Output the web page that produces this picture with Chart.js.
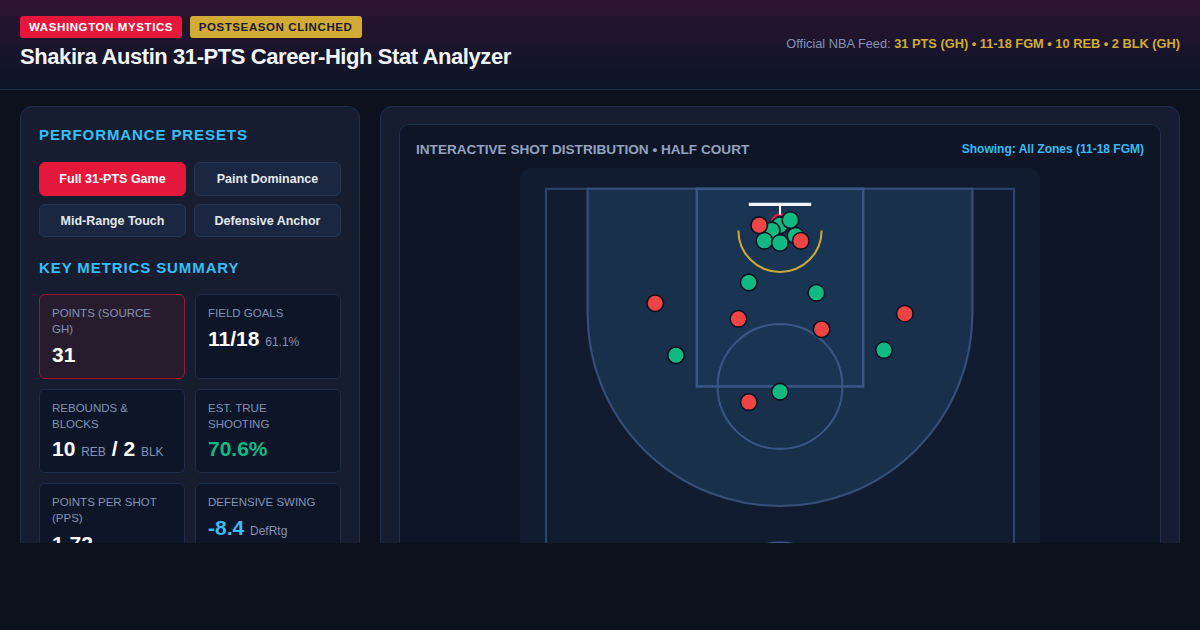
<!DOCTYPE html>
<html lang="en">
<head>
    <meta charset="UTF-8">
    <title>Shakira Austin 31-PTS Career-High Stat Analyzer</title>
    <script src="https://cdn.jsdelivr.net/npm/chart.js"></script>
    <style>
        * { box-sizing: border-box; }
        html, body { margin: 0; padding: 0; background: #0c121d; }
        body { font-family: "Liberation Sans", Arial, sans-serif; color: #f1f5f9; width: 1200px; height: 630px; overflow: hidden; }
        .page { height: 543px; overflow: hidden; }
        header {
            height: 90px;
            padding: 16px 20px 0;
            border-bottom: 1px solid #1e2f4d;
            background: linear-gradient(180deg, #2d152f 0%, #0a1428 100%);
            position: relative;
        }
        .badge { display: inline-block; height: 22px; line-height: 23px; padding: 0 9px; border-radius: 3px; font-size: 11.5px; font-weight: bold; letter-spacing: 0.6px; margin-right: 7.5px; }
        .badge.red { background: #e5173b; color: #fff; }
        .badge.gold { background: #d1ab36; color: #1a1a2e; }
        h1 { margin: 5px 0 0; font-size: 22px; line-height: 28px; letter-spacing: -0.42px; color: #f1f5f9; }
        .feed { position: absolute; right: 20px; top: 36px; font-size: 12.8px; color: #8493b3; }
        .feed b { color: #d1ab36; }
        main { display: flex; gap: 20px; padding: 16px 20px 0; align-items: flex-start; }
        .panel { background: #161d30; border: 1px solid #1f3050; border-radius: 12px; }
        .left { width: 340px; height: 600px; padding: 18px; }
        .right { width: 800px; height: 600px; padding: 17px 18px; }
        h2 { margin: 0; font-size: 15px; line-height: 20px; letter-spacing: 0.9px; color: #38bdf8; }
        .buttons { display: grid; grid-template-columns: 147px 147px; gap: 8px; margin-top: 17px; }
        .buttons div { height: 33.5px; line-height: 32px; text-align: center; font-size: 12.5px; font-weight: bold; background: #1b2740; border: 1px solid #243655; border-radius: 6px; color: #e2e8f0; }
        .buttons div.active { background: #e5173b; border-color: #e5173b; color: #fff; }
        h2.metrics { margin-top: 21px; }
        .cards { display: grid; grid-template-columns: 146px 146px; gap: 10px; margin-top: 16px; }
        .card { background: #0c1628; border: 1px solid #1c2c4a; border-radius: 6px; padding: 10px 12px 10px; height: 84.5px; }
        .card.hot { background: #271c2e; border-color: #a3152f; }
        .card .label { font-size: 11.5px; line-height: 16px; color: #8493b3; text-transform: uppercase; }
        .card .value { font-size: 21px; line-height: 26px; font-weight: bold; color: #fff; margin-top: 4.5px; white-space: nowrap; }
        .card small { font-size: 12px; font-weight: normal; color: #8493b3; }
        .inner { height: 600px; background: linear-gradient(180deg, #0e1526 0%, #0a1526 100%); border: 1px solid #1f3050; border-radius: 10px; padding: 0 16px; }
        .inner-head { display: flex; justify-content: space-between; height: 43px; padding-top: 17px; }
        .inner-head .t { font-size: 13.6px; font-weight: bold; color: #94a3c0; }
        .inner-head .s { font-size: 12px; font-weight: bold; color: #38bdf8; }
        .court { width: 520px; height: 489px; margin: 0 auto; background: #121c30; border-radius: 12px; }
        canvas { display: block; }
    </style>
</head>
<body>
<div class="page">
    <header>
        <span class="badge red">WASHINGTON MYSTICS</span><span class="badge gold">POSTSEASON CLINCHED</span>
        <h1>Shakira Austin 31-PTS Career-High Stat Analyzer</h1>
        <div class="feed">Official NBA Feed: <b>31 PTS (GH) • 11-18 FGM • 10 REB • 2 BLK (GH)</b></div>
    </header>
    <main>
        <div class="panel left">
            <h2>PERFORMANCE PRESETS</h2>
            <div class="buttons">
                <div class="active">Full 31-PTS Game</div>
                <div>Paint Dominance</div>
                <div>Mid-Range Touch</div>
                <div>Defensive Anchor</div>
            </div>
            <h2 class="metrics">KEY METRICS SUMMARY</h2>
            <div class="cards">
                <div class="card hot"><div class="label">Points (Source GH)</div><div class="value">31</div></div>
                <div class="card"><div class="label">Field Goals</div><div class="value">11/18 <small>61.1%</small></div></div>
                <div class="card"><div class="label">Rebounds &amp; Blocks</div><div class="value">10 <small>REB</small> / 2 <small>BLK</small></div></div>
                <div class="card"><div class="label">Est. True Shooting</div><div class="value" style="color:#10b981">70.6%</div></div>
                <div class="card"><div class="label">Points Per Shot (PPS)</div><div class="value">1.72</div></div>
                <div class="card"><div class="label">Defensive Swing</div><div class="value" style="color:#38bdf8">-8.4 <small>DefRtg</small></div></div>
            </div>
        </div>
        <div class="panel right">
            <div class="inner">
                <div class="inner-head">
                    <div class="t">INTERACTIVE SHOT DISTRIBUTION • HALF COURT</div>
                    <div class="s">Showing: All Zones (11-18 FGM)</div>
                </div>
                <div class="court"><canvas id="courtChart" width="520" height="489"></canvas></div>
            </div>
        </div>
    </main>
</div>

<script>
    // Shots, in court units (500 x 470, hoop side up)
    const madeX = [250, 242, 265, 235, 250, 260, 220, 285, 150, 350, 250];
    const madeY = [55, 60, 65, 70, 72, 50, 110, 120, 180, 175, 215];
    const missX = [230, 270, 130, 370, 210, 290, 220];
    const missY = [55, 70, 130, 140, 145, 155, 225];

    const toPoints = (xs, ys) => xs.map((x, i) => ({ x: x, y: ys[i] }));

    // Court floor, drawn under the shots through the chart's own scales
    const courtPlugin = {
        id: 'court',
        beforeDatasetsDraw(chart) {
            const c = chart.ctx;
            const sx = chart.scales.x, sy = chart.scales.y;
            const X = v => sx.getPixelForValue(v);
            const Y = v => sy.getPixelForValue(v);
            const R = v => X(v) - X(0);

            c.save();

            // outer boundary
            c.lineWidth = R(2);
            c.strokeStyle = '#2e4369';
            c.strokeRect(X(25), Y(20), R(450), R(450));

            // three point area
            c.strokeStyle = '#37507a';
            c.beginPath();
            c.moveTo(X(65), Y(20));
            c.lineTo(X(65), Y(140));
            c.arc(X(250), Y(140), R(185), Math.PI, 0, true);
            c.lineTo(X(435), Y(20));
            c.closePath();
            c.fillStyle = '#18304b';
            c.fill();
            c.stroke();

            // paint
            c.fillStyle = '#1a3554';
            c.fillRect(X(170), Y(20), R(160), R(190));
            c.lineWidth = R(2.5);
            c.strokeStyle = '#3a5684';
            c.strokeRect(X(170), Y(20), R(160), R(190));

            // free throw and half court circles
            c.lineWidth = R(2);
            c.beginPath();
            c.arc(X(250), Y(210), R(60), 0, Math.PI * 2);
            c.stroke();
            c.beginPath();
            c.arc(X(250), Y(420), R(60), 0, Math.PI * 2);
            c.stroke();

            // restricted area
            c.strokeStyle = '#c9a838';
            c.beginPath();
            c.arc(X(250), Y(60), R(40), Math.PI, 0, true);
            c.stroke();

            // rim, stem, backboard
            c.strokeStyle = '#e5173b';
            c.lineWidth = R(2.5);
            c.beginPath();
            c.arc(X(250), Y(52), R(7.5), 0, Math.PI * 2);
            c.stroke();
            c.strokeStyle = '#f1f5f9';
            c.lineWidth = R(2);
            c.beginPath();
            c.moveTo(X(250), Y(35));
            c.lineTo(X(250), Y(45));
            c.stroke();
            c.lineWidth = R(3);
            c.beginPath();
            c.moveTo(X(220), Y(35));
            c.lineTo(X(280), Y(35));
            c.stroke();
            c.restore();
        }
    };

    new Chart(document.getElementById('courtChart'), {
        type: 'scatter',
        data: {
            datasets: [
                { label: 'Missed', data: toPoints(missX, missY), backgroundColor: '#ef4444' },
                { label: 'Made', data: toPoints(madeX, madeY), backgroundColor: '#10b981' }
            ]
        },
        options: {
            responsive: false,
            animation: false,
            layout: { padding: 0, autoPadding: false },
            elements: { point: { radius: 8.3, hoverRadius: 8.3, borderWidth: 1.6, borderColor: '#0b1120' } },
            plugins: { legend: { display: false } },
            scales: {
                x: { display: false, min: 0, max: 500 },
                y: { display: false, min: 0, max: 470, reverse: true }
            }
        },
        plugins: [courtPlugin]
    });
</script>
</body>
</html>
